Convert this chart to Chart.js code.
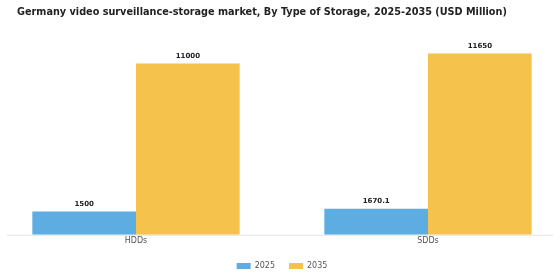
<!DOCTYPE html>
<html>
<head>
<meta charset="utf-8">
<script src="https://cdn.jsdelivr.net/npm/chart.js@4"></script>
<style>
  html, body { margin: 0; padding: 0; background: #fff; overflow: hidden; }
  /* canvas is a little wider than the page so the two groups sit where the original has them */
  #wrap { width: 584px; height: 280px; position: relative; margin-left: -10px; }
</style>
</head>
<body>
<div id="wrap"><canvas id="chart"></canvas></div>
<script>
// chart data
const titleText = 'Germany video surveillance-storage market, By Type of Storage, 2025-2035 (USD Million)';
const categories = ['HDDs', 'SDDs'];
const seriesNames = ['2025', '2035'];
const values2025 = [1500, 1670.1];
const values2035 = [11000, 11650];
const seriesColors = ['#5DADE2', '#F5C24C'];

const SHIFT = 10; // canvas starts 10px left of the page

// value labels above each bar
const barLabels = {
  id: 'barLabels',
  afterDatasetsDraw(chart) {
    const ctx = chart.ctx;
    ctx.save();
    ctx.font = 'bold 7px "DejaVu Sans", sans-serif';
    ctx.fillStyle = '#222';
    ctx.textAlign = 'center';
    ctx.textBaseline = 'bottom';
    chart.data.datasets.forEach((ds, i) => {
      chart.getDatasetMeta(i).data.forEach((bar, j) => {
        ctx.fillText(String(ds.data[j]), bar.x, bar.y - 4);
      });
    });
    ctx.restore();
  }
};

// title at the left plus a light baseline under the bars
const frame = {
  id: 'frame',
  beforeDatasetsDraw(chart) {
    const ctx = chart.ctx;
    const y = chart.chartArea.bottom + 0.5;
    ctx.save();
    ctx.strokeStyle = '#e4e4e4';
    ctx.lineWidth = 1;
    ctx.beginPath();
    ctx.moveTo(SHIFT + 7, y);
    ctx.lineTo(SHIFT + 553, y);
    ctx.stroke();

    ctx.font = 'bold 9.7px "DejaVu Sans", sans-serif';
    ctx.fillStyle = '#222';
    ctx.textAlign = 'left';
    ctx.textBaseline = 'middle';
    ctx.fillText(titleText, SHIFT + 17, 12);
    ctx.restore();
  }
};

new Chart(document.getElementById('chart'), {
  type: 'bar',
  data: {
    labels: categories,
    datasets: [
      { label: seriesNames[0], data: values2025, backgroundColor: seriesColors[0] },
      { label: seriesNames[1], data: values2035, backgroundColor: seriesColors[1] }
    ]
  },
  options: {
    responsive: true,
    maintainAspectRatio: false,
    animation: false,
    devicePixelRatio: 1,
    layout: { padding: { left: 0, right: 0, top: 46, bottom: 0 } },
    datasets: { bar: { categoryPercentage: 0.71, barPercentage: 1.0 } },
    scales: {
      x: {
        grid: { display: false, drawTicks: false },
        border: { display: false },
        ticks: { color: '#555', font: { family: '"DejaVu Sans", sans-serif', size: 8, lineHeight: 0.9 }, padding: 3 }
      },
      y: { display: false, min: 0, max: 12130 }
    },
    plugins: {
      title: { display: false },
      legend: {
        position: 'bottom',
        labels: {
          boxWidth: 14, boxHeight: 6, color: '#555', padding: 14,
          font: { family: '"DejaVu Sans", sans-serif', size: 8 }
        }
      },
      tooltip: { enabled: false }
    }
  },
  plugins: [barLabels, frame]
});
</script>
</body>
</html>
